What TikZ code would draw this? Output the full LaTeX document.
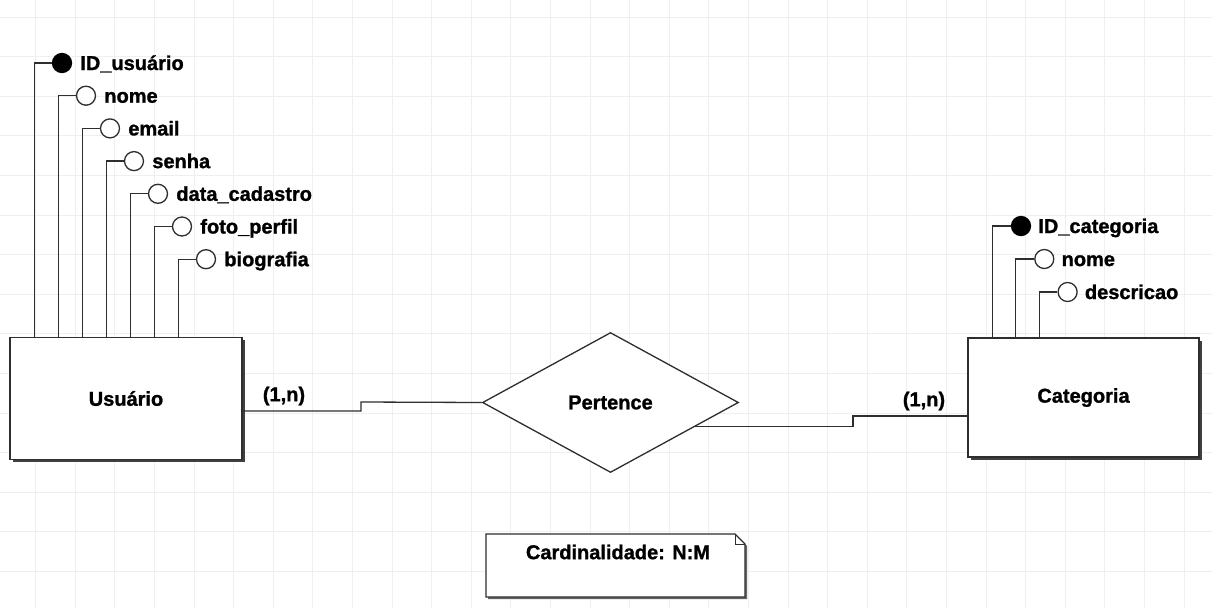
\documentclass[tikz,border=0pt]{standalone}
\usepackage{fontspec}
\setmainfont{Liberation Sans}[BoldFeatures={FakeBold=1.2}]
\usetikzlibrary{shapes.geometric,shadows,calc}
\definecolor{ln}{HTML}{2E2E2E}
\definecolor{gridc}{HTML}{EFEFEF}
\tikzset{
  gridline/.style={draw=gridc, line width=0.8pt},
  entity/.style={draw=ln, line width=1.4pt, fill=white, rectangle, inner sep=0pt,
    drop shadow={shadow xshift=2.5pt, shadow yshift=-2.5pt, fill=black!75, opacity=1}},
  rel/.style={draw=ln, line width=1.3pt, fill=white, diamond, inner sep=0pt,
    minimum width=256pt, minimum height=140pt},
  attr/.style={draw=ln, line width=1.3pt, fill=white, circle, inner sep=0pt, minimum size=19pt},
  keyattr/.style={attr, fill=black, draw=black},
  lbl/.style={font=\bfseries\fontsize{20}{23}\selectfont, text=black, inner sep=0pt},
  conn/.style={draw=ln, line width=1.3pt},
}
\begin{document}
\begin{tikzpicture}[x=1pt,y=-1pt]
\useasboundingbox (0,0) rectangle (1212,608);
\fill[white] (0,0) rectangle (1212,608);
% grid
\foreach \i in {0,...,31} \draw[gridline] ({-4+39.6*\i},0) -- ++(0,608);
\foreach \j in {0,...,15} \draw[gridline] (0,{17+39.6*\j}) -- ++(1212,0);

% entities
\node[entity, minimum width=232pt, minimum height=122pt] (u) at (126,398.5) {};
\node[lbl] (ut) at (u.center) {Usuário};
\node[entity, minimum width=231pt, minimum height=119pt] (c) at (1083.5,397.5) {};
\node[lbl] (ct) at (c.center) {Categoria};

% relationship
\node[rel] (p) at (610.5,402.5) {};
\node[lbl] (pt) at (p.center) {Pertence};

% Usuario attributes
\foreach \k/\name/\st in {0/ID\_usuário/keyattr,1/nome/attr,2/email/attr,3/senha/attr,4/data\_cadastro/attr,5/foto\_perfil/attr,6/biografia/attr}{
  \node[\st] (ua\k) at ({62+24*\k},{63+32.7*\k}) {};
  \node[lbl, anchor=base west] (ual\k) at ($(ua\k.east)+(8,7)$) {\name};
  \draw[conn] (ua\k.west) -| ($(u.north west)+({25+24*\k},0)$);
}

% Categoria attributes
\foreach \k/\name/\st in {0/ID\_categoria/keyattr,1/nome/attr,2/descricao/attr}{
  \node[\st] (ca\k) at ({1021+23.3*\k},{226+33*\k}) {};
  \node[lbl, anchor=base west] (cal\k) at ($(ca\k.east)+(7,7)$) {\name};
  \draw[conn] (ca\k.west) -| ($(c.north west)+({25+23.5*\k},0)$);
}

% connectors
\draw[conn] ([yshift=-12.5pt]u.east) -| (361,402) -- (p.west);
\node[lbl] (c1) at (284,396) {(1,n)};
\draw[conn] ($(p.east)!0.34!(p.south)$) -| (853,416) -- ([yshift=-18.5pt]c.west);
\node[lbl] (c2) at (924,401) {(1,n)};

% note
\fill[black!60] (488,536) -- (737,536) -- (747,546) -- (747,599) -- (488,599) -- cycle;
\draw[ln, line width=1.3pt, fill=white] (486,534) -- (735,534) -- (745,544) -- (745,597) -- (486,597) -- cycle;
\draw[ln, line width=0.8pt] (735,534) -- (735,544) -- (745,544);
\node[lbl] (nt) at (618,552) {Cardinalidade: N:M};
\end{tikzpicture}
\end{document}
